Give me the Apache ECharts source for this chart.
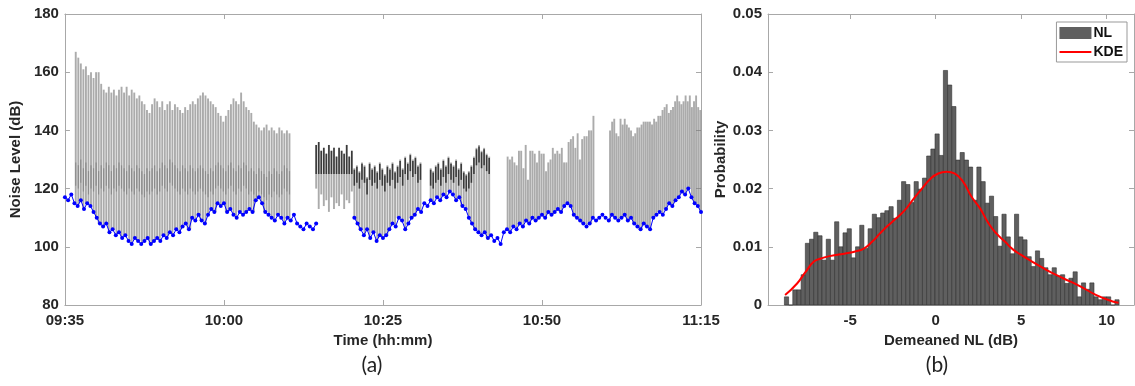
<!DOCTYPE html>
<html>
<head>
<meta charset="utf-8">
<title>Noise level and demeaned NL distribution</title>
<script src="https://cdn.jsdelivr.net/npm/echarts@6/dist/echarts.min.js"></script>
<style>
  html, body { margin: 0; padding: 0; background: #fff; }
  #chart { width: 1135px; height: 386px; }
</style>
</head>
<body>
<div id="chart"></div>
<script>
// ---------- (a) noise level, x in minutes after 09:35 ----------
const timeLabels = ['09:35', '10:00', '10:25', '10:50', '11:15'];

// blue baseline NL (dB), one reading every 0.5 min from 09:35 to 11:15
const baseNL = [
  117, 116, 118, 115, 114, 116, 113, 115, 114, 112,
  110, 108, 107, 108, 105, 106, 104, 105, 103, 104,
  102, 101, 103, 102, 101, 102, 103, 101, 102, 103,
  102, 104, 103, 105, 104, 106, 105, 107, 108, 106,
  110, 109, 111, 109, 108, 111, 113, 112, 115, 114,
  115, 112, 113, 111, 110, 112, 111, 112, 113, 112,
  116, 117, 115, 112, 111, 110, 109, 111, 110, 108,
  110, 109, 111, 108, 107, 106, 108, 107, 106, 108,
  null, null, null, null, null, null, null, null, null, null,
  null, 110, 108, 106, 104, 106, 103, 105, 102, 104,
  103, 104, 106, 108, 107, 110, 109, 106, 108, 110,
  111, 113, 112, 115, 114, 116, 115, 117, 116, 118,
  117, 119, 118, 116, 117, 114, 113, 110, 108, 106,
  105, 104, 105, 103, 104, 102, 103, 101, 105, 106,
  105, 107, 106, 108, 107, 109, 108, 110, 109, 110,
  111, 110, 112, 111, 112, 113, 112, 114, 115, 114,
  111, 110, 109, 108, 107, 108, 110, 109, 110, 111,
  110, 109, 111, 110, 109, 110, 111, 109, 110, 108,
  107, 106, 108, 107, 106, 110, 111, 112, 111, 113,
  115, 114, 116, 117, 119, 118, 120, 117, 115, 114,
  112
];

// bursts of peaks: start minute and spacing (min) of each burst
const burstStart = [1.7, 39.5, 45.5, 57.5, 69.6, 85.7];
const burstStep = [0.4, 0.4, 0.4, 0.4, 0.355, 0.33];

const peaks1 = [
  167, 165, 163, 161, 162, 159, 160, 158, 160, 160,
  156, 154, 153, 155, 153, 154, 152, 154, 155, 153,
  155, 152, 154, 153, 151, 152, 150, 149, 147, 146,
  149, 151, 150, 148, 150, 147, 149, 150, 147, 149,
  148, 147, 146, 148, 147, 149, 150, 149, 151, 152,
  153, 152, 151, 150, 149, 148, 146, 145, 143, 145,
  147, 149, 151, 150, 149, 153, 150, 148, 147, 146,
  143, 142, 141, 140, 141, 142, 140, 141, 140, 139,
  141, 140, 139, 140, 139
];
// level where the trace dwells between peaks in the first burst
const dwell1 = [
  127, 126, 128, 125, 127, 124, 126, 125, 127, 124,
  126, 125, 127, 126, 124, 126, 125, 127, 126, 125,
  124, 126, 125, 124, 126, 125, 124, 123, 125, 124,
  125, 126, 124, 125, 127, 126, 125, 128, 127, 126,
  125, 124, 126, 125, 124, 126, 125, 124, 125, 126,
  125, 124, 123, 125, 124, 126, 127, 126, 125, 124,
  126, 127, 125, 124, 126, 125, 127, 126, 124, 125,
  124, 123, 125, 124, 123, 122, 124, 123, 125, 124,
  123, 124, 126, 125, 124
];
const peaks2 = [135, 136, 133, 134, 132, 135, 133, 134, 131, 134, 133, 132, 135, 131, 133];
const lows2 = [120, 113, 118, 114, 116, 112, 117, 113, 115, 114, 118, 113, 116, 115, 119];
const peaks3 = [
  127, 128, 126, 129, 128, 124, 129, 127, 128, 126,
  129, 127, 125, 128, 127, 129, 126, 128, 130, 127,
  131, 129, 132, 130, 131, 128, 129
];
const peaks4 = [
  127, 126, 128, 129, 127, 130, 128, 131, 129, 128,
  130, 127, 129, 126, 125, 126, 128, 131, 134, 135,
  133, 134, 132, 131
];
const peaks5 = [
  131, 130, 131, 129, 128, 133, 133, 127, 135, 123,
  133, 133, 132, 129, 133, 132, 132, 126, 129, 130,
  134, 132, 133, 132, 134, 129, 129, 136, 137, 138,
  134, 139, 130, 137, 138, 138, 140, 140, 145
];
const peaks6 = [
  140, 143, 144, 139, 138, 144, 142, 144, 142, 141,
  140, 138, 139, 141, 141, 142, 143, 143, 143, 143,
  142, 144, 143, 145, 145, 147, 148, 149, 146, 147,
  148, 150, 152, 150, 149, 150, 152, 150, 152, 148,
  150, 152, 148, 147
];

// ---------- (b) histogram of demeaned NL ----------
const histStart = -8.84;   // left edge of first bin (dB)
const histWidth = 0.2446;  // bin width (dB)
const histProb = [
  0.0014, 0, 0.0026, 0.0026, 0.0052, 0.0106, 0.0113, 0.0125, 0.0119, 0.0077,
  0.0113, 0.0077, 0.0143, 0.0100, 0.0124, 0.0131, 0.0081, 0.0100, 0.0137, 0.0097,
  0.0131, 0.0156, 0.0150, 0.0158, 0.0162, 0.0169, 0.0149, 0.0180, 0.0212, 0.0207,
  0.0176, 0.0212, 0.0199, 0.0218, 0.0256, 0.0268, 0.0294, 0.0257,
  0.0403, 0.0378, 0.0341, 0.0249, 0.0262, 0.0249, 0.0237, 0.0180, 0.0237, 0.0212,
  0.0175, 0.0187, 0.0152, 0.0101, 0.0156, 0.0117, 0.0088, 0.0156, 0.0117, 0.0112,
  0.0083, 0.0066, 0.0093, 0.0080, 0.0064, 0.0052, 0.0064, 0.0050, 0.0052, 0.0037,
  0.0046, 0.0057, 0.0014, 0.0038, 0.0027, 0.0038, 0.0014, 0.0009, 0.0014, 0.0014,
  0, 0.0009
];
const kdeX = [-8.8, -8.1, -7.6, -7.1, -6.7, -6.2, -5.2, -4.7, -4.2, -3.7, -3.25, -2.8,
  -2.3, -1.8, -1.3, -0.8, -0.3, 0.15, 0.65, 1.1, 1.6, 2.1, 2.6, 3.1, 3.55, 4.05,
  4.5, 5.0, 5.5, 6.5, 7.45, 8.4, 9.4, 10.35, 10.7];
const kdeY = [0.0017, 0.0037, 0.0057, 0.0075, 0.0080, 0.0084, 0.0089, 0.0092, 0.0097,
  0.0109, 0.0123, 0.0136, 0.0149, 0.0163, 0.0182, 0.0200, 0.0217, 0.0226, 0.0229,
  0.0226, 0.0212, 0.0186, 0.0166, 0.0140, 0.0123, 0.0109, 0.0096, 0.0086, 0.0077,
  0.0060, 0.0046, 0.0033, 0.0017, 0.0006, 0.0004];

// ---------- build series data ----------
const baseAt = (t) => {
  let i = Math.round(t * 2);
  while (i > 0 && baseNL[i] == null) i--;
  return baseNL[i];
};

// each spike: [t, low, peak, darkLo, darkHi, strong]
const spikeData = [];
const bursts = [peaks1, peaks2, peaks3, peaks4, peaks5, peaks6];
bursts.forEach((pk, b) => {
  pk.forEach((p, i) => {
    const t = burstStart[b] + i * burstStep[b];
    const low = b === 1 ? lows2[i] : baseAt(t);
    let dLo = 0, dHi = 0, kind = 0;
    if (b === 0) { dLo = dwell1[i] - 6; dHi = dwell1[i] + 2; }
    else if (b === 1) { dLo = 125; dHi = p; kind = 1; }
    else if (b === 2 || b === 3) { dLo = p - 6; dHi = p - 0.5; kind = 1; }
    spikeData.push([t, low, p, dLo, dHi, kind]);
  });
});

const baseData = baseNL.map((v, i) => [i * 0.5, v]);
const histData = histProb.map((p, i) => [histStart + i * histWidth, histStart + (i + 1) * histWidth, p]);
const kdeData = kdeX.map((x, i) => [x, kdeY[i]]);

// ---------- chart ----------
const chart = echarts.init(document.getElementById('chart'), null, { renderer: 'canvas' });

const boxGrey = '#a8a8a8';
const textCol = '#262626';
const fam = '"Liberation Sans", Arial, sans-serif';
const tickText = { color: textCol, fontSize: 15, fontWeight: 'bold', fontFamily: fam };
const nameText = { color: textCol, fontSize: 15, fontWeight: 'bold', fontFamily: fam };
const line = { show: true, onZero: false, lineStyle: { color: boxGrey, width: 1 } };
const tick = { show: true, inside: true, length: 5, lineStyle: { color: boxGrey } };
const kdeIcon = 'path://M0,0 L0.05,0 L0.05,0.05 L0,0.05 Z M0,5 L32,5 L32,7 L0,7 Z M0,12 L0.05,12 L0.05,12.05 L0,12.05 Z';

const option = {
  animation: false,
  backgroundColor: '#fff',
  grid: [
    { left: 59, top: 14, width: 642, height: 291 },
    { left: 768, top: 14, width: 366, height: 291 }
  ],
  xAxis: [
    {
      gridIndex: 0, type: 'value', position: 'bottom', min: 0, max: 100, interval: 25,
      axisLine: line, axisTick: tick, splitLine: { show: false },
      axisLabel: { ...tickText, margin: 8, formatter: (v) => timeLabels[Math.round(v / 25)] },
      name: 'Time (hh:mm)', nameLocation: 'middle', nameGap: 28, nameTextStyle: nameText
    },
    {
      gridIndex: 0, type: 'value', position: 'top', min: 0, max: 100, interval: 25,
      axisLine: line, axisTick: tick, axisLabel: { show: false }, splitLine: { show: false }
    },
    {
      gridIndex: 1, type: 'value', position: 'bottom', min: -9.8, max: 11.6,
      axisLine: line, splitLine: { show: false },
      axisTick: { ...tick, customValues: [-5, 0, 5, 10] },
      axisLabel: { ...tickText, margin: 8, customValues: [-5, 0, 5, 10] },
      name: 'Demeaned NL (dB)', nameLocation: 'middle', nameGap: 28, nameTextStyle: nameText
    },
    {
      gridIndex: 1, type: 'value', position: 'top', min: -9.8, max: 11.6,
      axisLine: line, splitLine: { show: false }, axisLabel: { show: false },
      axisTick: { ...tick, customValues: [-5, 0, 5, 10] }
    }
  ],
  yAxis: [
    {
      gridIndex: 0, type: 'value', position: 'left', min: 80, max: 180, interval: 20,
      axisLine: line, axisTick: tick, splitLine: { show: false },
      axisLabel: { ...tickText, margin: 6 },
      name: 'Noise Level (dB)', nameLocation: 'middle', nameGap: 36, nameTextStyle: nameText
    },
    {
      gridIndex: 0, type: 'value', position: 'right', min: 80, max: 180, interval: 20,
      axisLine: line, axisTick: tick, axisLabel: { show: false }, splitLine: { show: false }
    },
    {
      gridIndex: 1, type: 'value', position: 'left', min: 0, max: 0.05, interval: 0.01,
      axisLine: line, axisTick: tick, splitLine: { show: false },
      axisLabel: { ...tickText, margin: 6, formatter: (v) => (v === 0 ? '0' : v.toFixed(2)) },
      name: 'Probability', nameLocation: 'middle', nameGap: 40, nameTextStyle: nameText
    },
    {
      gridIndex: 1, type: 'value', position: 'right', min: 0, max: 0.05, interval: 0.01,
      axisLine: line, axisTick: tick, axisLabel: { show: false }, splitLine: { show: false }
    }
  ],
  legend: {
    data: [{ name: 'NL', icon: 'rect' }, { name: 'KDE', icon: kdeIcon }],
    orient: 'vertical', right: 8, top: 22,
    itemWidth: 32, itemHeight: 12, itemGap: 5, padding: [4, 4, 3, 3],
    backgroundColor: '#fff', borderColor: '#999', borderWidth: 1, borderRadius: 0,
    textStyle: { color: '#111', fontSize: 14, fontWeight: 'bold', fontFamily: fam, padding: [0, 0, 0, -3] }
  },
  graphic: [
    { type: 'text', x: 372, y: 365, style: { text: '(a)', font: '21px Lato, "Open Sans", sans-serif', fill: '#222', textAlign: 'center', textVerticalAlign: 'middle' } },
    { type: 'text', x: 937, y: 365, style: { text: '(b)', font: '21px Lato, "Open Sans", sans-serif', fill: '#222', textAlign: 'center', textVerticalAlign: 'middle' } }
  ],
  series: [
    {
      type: 'custom', name: 'spikes', xAxisIndex: 0, yAxisIndex: 0,
      encode: { x: 0, y: [1, 2] },
      data: spikeData,
      renderItem: (params, api) => {
        const x = api.coord([api.value(0), 0])[0];
        const yLo = api.coord([0, api.value(1)])[1];
        const yHi = api.coord([0, api.value(2)])[1];
        const kids = [{
          type: 'line', shape: { x1: x, y1: yLo, x2: x, y2: yHi },
          style: { stroke: 'rgba(120,120,120,0.62)', lineWidth: 1.9 }
        }];
        if (api.value(4) > api.value(3)) {
          const strong = api.value(5) === 1;
          kids.push({
            type: 'line',
            shape: { x1: x, y1: api.coord([0, api.value(3)])[1], x2: x, y2: api.coord([0, api.value(4)])[1] },
            style: { stroke: strong ? 'rgba(30,30,30,0.8)' : 'rgba(70,70,70,0.3)', lineWidth: strong ? 1.6 : 1.3 }
          });
        }
        return { type: 'group', children: kids };
      }
    },
    {
      type: 'line', name: 'base', xAxisIndex: 0, yAxisIndex: 0,
      data: baseData, connectNulls: false,
      symbol: 'circle', symbolSize: 4, showSymbol: true,
      itemStyle: { color: '#0000ff' },
      lineStyle: { color: '#0000ff', width: 1 }
    },
    {
      type: 'custom', name: 'NL', xAxisIndex: 2, yAxisIndex: 2,
      encode: { x: [0, 1], y: 2 },
      itemStyle: { color: '#5f5f5f' },
      data: histData,
      renderItem: (params, api) => {
        const p0 = api.coord([api.value(0), 0]);
        const p1 = api.coord([api.value(1), api.value(2)]);
        return {
          type: 'rect',
          shape: { x: p0[0], y: p1[1], width: p1[0] - p0[0], height: p0[1] - p1[1] },
          style: { fill: '#5f5f5f', stroke: '#303030', lineWidth: 0.6 }
        };
      }
    },
    {
      type: 'line', name: 'KDE', xAxisIndex: 2, yAxisIndex: 2,
      data: kdeData, smooth: true, symbol: 'none',
      itemStyle: { color: '#ff0000' },
      lineStyle: { color: '#ff0000', width: 2 }
    }
  ]
};

chart.setOption(option);
window.addEventListener('resize', () => chart.resize());
</script>
</body>
</html>
